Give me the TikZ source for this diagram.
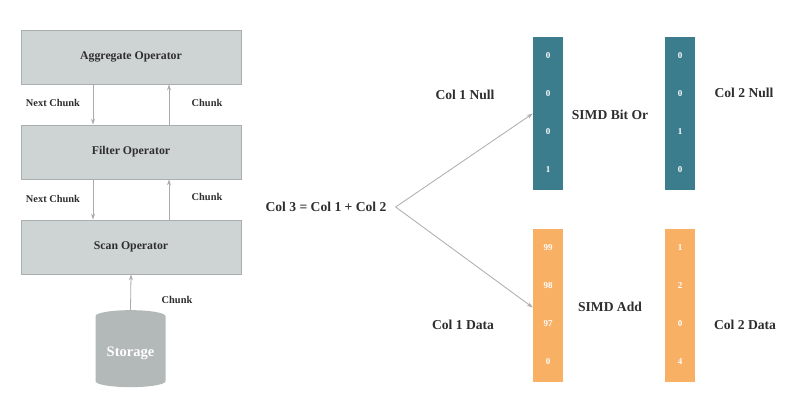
\documentclass[tikz,border=0pt]{standalone}
\usepackage{fontspec}
\setmainfont{Liberation Serif}
\usetikzlibrary{positioning, calc, shapes.geometric, arrows.meta}
\definecolor{opFill}{HTML}{CED3D3}
\definecolor{opDraw}{HTML}{A9AEAE}
\definecolor{storeGray}{HTML}{B3B8B8}
\definecolor{nullTeal}{HTML}{3B7D8C}
\definecolor{dataOrange}{HTML}{F8B064}
\definecolor{txtDark}{HTML}{2E2E2E}
\definecolor{arrGray}{HTML}{ABABAB}
\begin{document}
\begin{tikzpicture}[
    x=1pt, y=-1pt,
    op/.style={rectangle, draw=opDraw, fill=opFill, thick,
               minimum width=220pt, minimum height=54pt, align=center,
               font=\fontsize{11.8}{14}\selectfont\bfseries, text=txtDark},
    lbl/.style={font=\fontsize{10.4}{12}\selectfont\bfseries, text=txtDark, inner sep=1pt},
    big/.style={font=\fontsize{13.6}{16}\selectfont\bfseries, text=txtDark, inner sep=1pt},
    bar/.style={rectangle, minimum width=30pt, minimum height=153pt, inner sep=0pt},
    val/.style={font=\fontsize{9}{10}\selectfont\bfseries, text=white, inner sep=0pt},
    flow/.style={-{Stealth[length=6pt, width=4pt]}, arrGray, line width=0.8pt},
  ]
    \useasboundingbox (0,0) rectangle (802,416);

    % Left: operator pipeline
    \node[op] (agg) at (131,57) {Aggregate Operator};
    \node[op] (filt) at (131,152) {Filter Operator};
    \node[op] (scan) at (131,247) {Scan Operator};
    \node[cylinder, shape border rotate=90, aspect=0.22, fill=storeGray,
          minimum width=70pt, minimum height=77pt, text=white,
          font=\fontsize{14.5}{16}\selectfont\bfseries] (store) at (130.5,353) {Storage};

    \draw[flow] ([xshift=-38pt]agg.south) -- ([xshift=-38pt]filt.north);
    \draw[flow] ([xshift=38pt]filt.north) -- ([xshift=38pt]agg.south);
    \draw[flow] ([xshift=-38pt]filt.south) -- ([xshift=-38pt]scan.north);
    \draw[flow] ([xshift=38pt]scan.north) -- ([xshift=38pt]filt.south);
    \draw[flow] (store.top) -- (scan.south);

    \node[lbl] (nc1) at (53,103) {Next Chunk};
    \node[lbl] (ch1) at (207,103) {Chunk};
    \node[lbl] (nc2) at (53,199) {Next Chunk};
    \node[lbl] (ch2) at (207,197) {Chunk};
    \node[lbl] (ch3) at (177,300) {Chunk};

    % Right: column vectors
    \node[big] (expr) at (326,207) {Col 3 = Col 1 + Col 2};
    \node[bar, fill=nullTeal] (c1null) at (548,113.5) {};
    \node[bar, fill=nullTeal] (c2null) at (680,113.5) {};
    \node[bar, fill=dataOrange] (c1data) at (548,305.5) {};
    \node[bar, fill=dataOrange] (c2data) at (680,305.5) {};

    \foreach \v [count=\i] in {0,0,0,1}
      \node[val] at ([yshift={-(38*\i-19)*1pt}]c1null.north) {\v};
    \foreach \v [count=\i] in {0,0,1,0}
      \node[val] at ([yshift={-(38*\i-19)*1pt}]c2null.north) {\v};
    \foreach \v [count=\i] in {99,98,97,0}
      \node[val] at ([yshift={-(38*\i-19)*1pt}]c1data.north) {\v};
    \foreach \v [count=\i] in {1,2,0,4}
      \node[val] at ([yshift={-(38*\i-19)*1pt}]c2data.north) {\v};

    \draw[flow] ([xshift=8pt]expr.east) -- (c1null.west);
    \draw[flow] ([xshift=8pt]expr.east) -- ([yshift=-2pt]c1data.west);

    \node[big] (n1) at (465,95) {Col 1 Null};
    \node[big] (orop) at (610,115) {SIMD Bit Or};
    \node[big] (n2) at (744,93) {Col 2 Null};
    \node[big] (d1) at (463,325) {Col 1 Data};
    \node[big] (addop) at (610,307) {SIMD Add};
    \node[big] (d2) at (745,325) {Col 2 Data};
\end{tikzpicture}
\end{document}
